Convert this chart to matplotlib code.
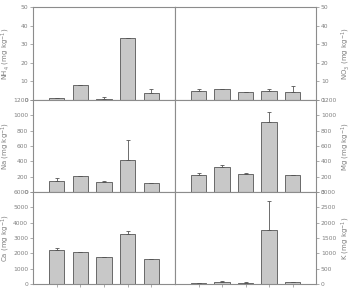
import matplotlib
matplotlib.use('Agg')
import matplotlib.pyplot as plt
import numpy as np

# treatments (labels are cut off at the bottom of the original)
treatments = ['C', 'CTH', 'CTS', 'TH', 'TS']

nh4 = [0.9, 7.9, 0.3, 33.2, 3.9]
nh4_err = [0.3, 0.3, 1.5, 0.2, 1.8]
no3 = [5.0, 5.8, 4.3, 5.0, 4.5]
no3_err = [0.7, 0.0, 0.0, 0.7, 3.0]

na = [149, 205, 132, 418, 114]
na_err = [35, 5, 8, 263, 0]
mg = [223, 331, 236, 918, 223]
mg_err = [20, 20, 10, 122, 0]

ca = [2196, 2065, 1760, 3280, 1630]
ca_err = [170, 50, 30, 150, 0]
k = [30, 65, 40, 1770, 50]
k_err = [10, 40, 10, 935, 0]

panels = [
    (nh4, nh4_err, 'NH$_4$ (mg kg$^{-1}$)', 50, 10, 'left'),
    (no3, no3_err, 'NO$_3$ (mg kg$^{-1}$)', 50, 10, 'right'),
    (na, na_err, 'Na (mg kg$^{-1}$)', 1200, 200, 'left'),
    (mg, mg_err, 'Mg (mg kg$^{-1}$)', 1200, 200, 'right'),
    (ca, ca_err, 'Ca (mg kg$^{-1}$)', 6000, 1000, 'left'),
    (k, k_err, 'K (mg kg$^{-1}$)', 3000, 500, 'right'),
]

W, H = 352, 291
fig = plt.figure(figsize=(W / 100, H / 100), dpi=100)

rows_px = [7, 100, 192, 284]
cols_px = [33, 175, 316]
gray = '#8c8c8c'
txt = '#808080'

x = np.arange(len(treatments))
for i, (vals, err, lab, ymax, step, side) in enumerate(panels):
    r, c = i // 2, i % 2
    left = cols_px[c] / W
    width = (cols_px[c + 1] - cols_px[c]) / W
    bottom = 1 - rows_px[r + 1] / H
    height = (rows_px[r + 1] - rows_px[r]) / H
    ax = fig.add_axes([left, bottom, width, height])
    err = np.array(err)
    ax.bar(x, vals, width=0.64, color='#c8c8c8', edgecolor='#555555', linewidth=0.6, zorder=2)
    ax.errorbar(x, vals, yerr=[np.zeros_like(err), err], fmt='none', ecolor='#555555',
                elinewidth=0.6, capsize=1.5, capthick=0.6, zorder=3)
    ax.set_xlim(-1, 5)
    ax.set_ylim(0, ymax)
    ax.set_yticks(np.arange(0, ymax + 1, step))
    for s in ax.spines.values():
        s.set_color(gray)
        s.set_linewidth(0.8)
    ax.tick_params(axis='y', labelsize=4.3, colors=gray, labelcolor=txt, length=2, width=0.5, pad=1.5)
    if side == 'right':
        ax.yaxis.tick_right()
        ax.yaxis.set_label_position('right')
        ax.set_ylabel(lab, fontsize=5, color=txt, rotation=90)
        ax.yaxis.set_label_coords(1.17, 0.5)
    else:
        ax.set_ylabel(lab, fontsize=5, color=txt)
        ax.yaxis.set_label_coords(-0.15, 0.5)
    if r == 2:
        ax.set_xticks(x)
        ax.set_xticklabels(treatments, fontsize=4.5, color=txt)
        ax.tick_params(axis='x', colors=gray, labelcolor=txt, length=2, width=0.5, pad=3)
    else:
        ax.set_xticks([])

fig.savefig('out.png', dpi=100)
